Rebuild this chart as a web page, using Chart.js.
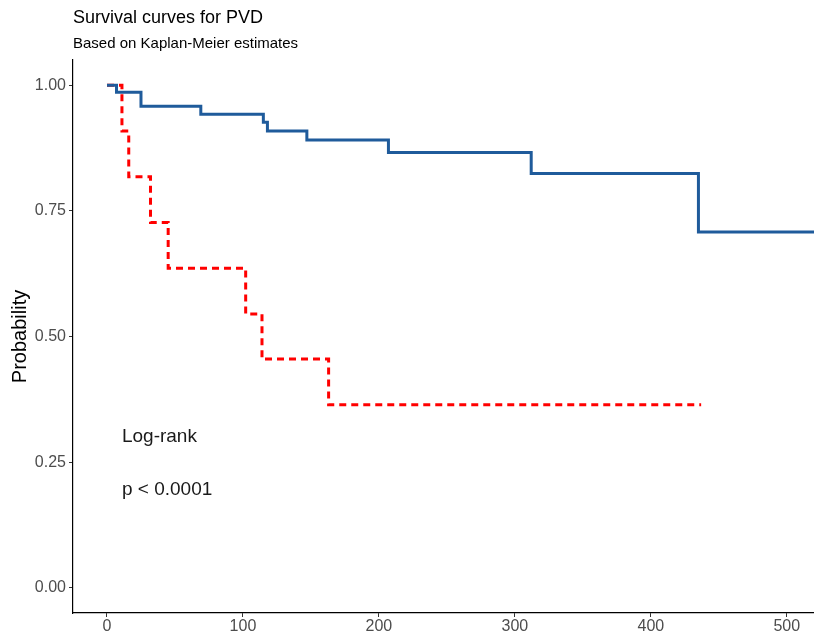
<!DOCTYPE html>
<html>
<head>
<meta charset="utf-8">
<script src="https://cdn.jsdelivr.net/npm/chart.js@4.4.1/dist/chart.umd.min.js"></script>
<style>
  html, body { margin: 0; padding: 0; background: #fff; }
  #wrap { width: 814px; height: 636px; }
</style>
</head>
<body>
<div id="wrap"><canvas id="km"></canvas></div>
<script>
// Kaplan-Meier step points (time, survival)
const groupATimes = [0, 7, 25, 69, 115, 118, 147, 207, 312, 435, 540];
const groupASurv  = [1, 0.986, 0.958, 0.942, 0.926, 0.909, 0.891, 0.866, 0.824, 0.708, 0.708];
const groupBTimes = [0, 11, 16, 32, 45, 102, 114, 163, 437];
const groupBSurv  = [1, 0.909, 0.818, 0.727, 0.636, 0.545, 0.455, 0.364, 0.364];
const yTicks = [0, 0.25, 0.5, 0.75, 1];
const xTicks = [0, 100, 200, 300, 400, 500];

const FONT = '"Liberation Sans", Arial, sans-serif';

function toPoints(ts, ss) {
    return ts.map((t, i) => ({ x: t, y: ss[i] }));
}

// titles + log-rank text
const textPlugin = {
    id: 'kmText',
    afterDraw(chart) {
        const ctx = chart.ctx;
        const xs = chart.scales.x, ys = chart.scales.y;
        ctx.save();
        ctx.fillStyle = '#000';
        ctx.textBaseline = 'middle';
        ctx.textAlign = 'left';
        ctx.font = '18px ' + FONT;
        ctx.fillText('Survival curves for PVD', 73, 18);
        ctx.font = '15px ' + FONT;
        ctx.fillText('Based on Kaplan-Meier estimates', 73, 44);
        ctx.font = '19px ' + FONT;
        ctx.fillStyle = '#1a1a1a';
        ctx.fillText('Log-rank', xs.getPixelForValue(11), ys.getPixelForValue(0.3));
        ctx.fillText('p < 0.0001', xs.getPixelForValue(11), ys.getPixelForValue(0.196));
        ctx.restore();
    }
};

new Chart(document.getElementById('km'), {
    type: 'line',
    data: {
        datasets: [{
            label: 'PVD = 0',
            data: toPoints(groupATimes, groupASurv),
            borderColor: '#1f5b9b',
            borderWidth: 3,
            stepped: 'before',
            pointRadius: 0,
            fill: false
        }, {
            label: 'PVD = 1',
            data: toPoints(groupBTimes, groupBSurv),
            borderColor: '#ff0000',
            borderWidth: 3,
            borderDash: [7, 5],
            stepped: 'before',
            pointRadius: 0,
            fill: false
        }]
    },
    options: {
        responsive: true,
        maintainAspectRatio: false,
        animation: false,
        layout: { padding: { top: 60, left: 0, right: 0, bottom: 0 } },
        plugins: {
            legend: { display: false },
            tooltip: { enabled: false }
        },
        scales: {
            x: {
                type: 'linear',
                min: -25,
                max: 520,
                afterBuildTicks: (s) => { s.ticks = xTicks.map(v => ({ value: v })); },
                afterFit: (s) => { s.height = 23; },
                grid: { drawOnChartArea: false, drawTicks: true, tickLength: 4, tickColor: '#333' },
                border: { display: true, color: '#000', width: 1.2 },
                ticks: { color: '#4d4d4d', font: { family: FONT, size: 16 }, padding: 0, maxRotation: 0 }
            },
            y: {
                type: 'linear',
                min: -0.05,
                max: 1.05,
                afterBuildTicks: (s) => { s.ticks = yTicks.map(v => ({ value: v })); },
                afterFit: (s) => { s.width = 73; },
                grid: { drawOnChartArea: false, drawTicks: true, tickLength: 4, tickColor: '#333' },
                border: { display: true, color: '#000', width: 1.2 },
                ticks: {
                    color: '#4d4d4d',
                    font: { family: FONT, size: 16 },
                    padding: 3,
                    callback: (v) => Number(v).toFixed(2)
                },
                title: {
                    display: true,
                    text: 'Probability',
                    color: '#000',
                    font: { family: FONT, size: 20 },
                    padding: { top: 8, bottom: 0 }
                }
            }
        }
    },
    plugins: [textPlugin]
});
</script>
</body>
</html>
